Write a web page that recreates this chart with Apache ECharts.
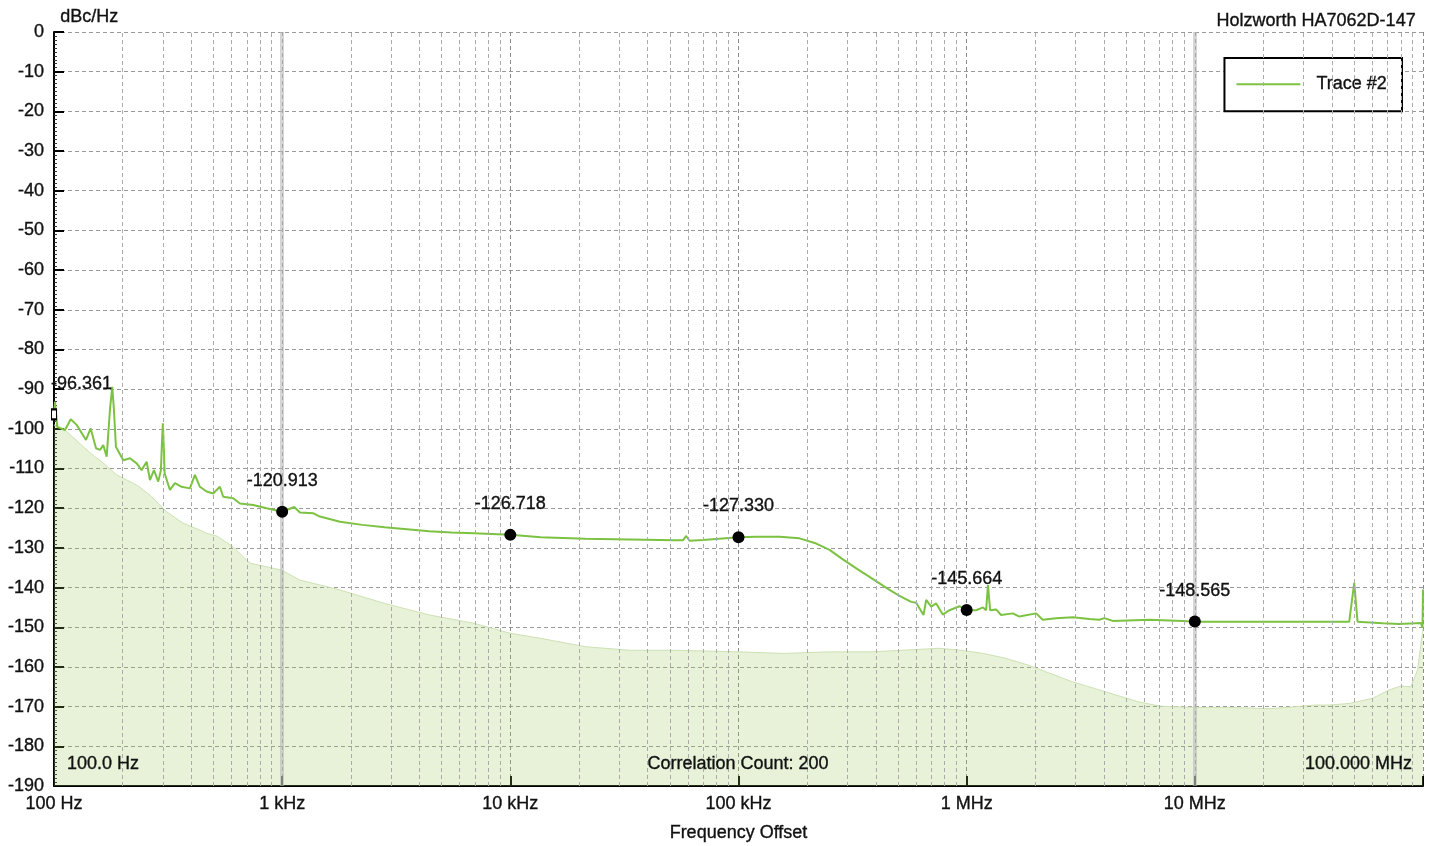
<!DOCTYPE html>
<html>
<head>
<meta charset="utf-8">
<script src="https://cdn.jsdelivr.net/npm/echarts@6/dist/echarts.min.js"></script>
<style>
html,body{margin:0;padding:0;background:#fff;overflow:hidden;}
#chart{width:1434px;height:846px;}
</style>
</head>
<body>
<div id="chart"></div>
<script>
// ---- Data (frequency offset in Hz, phase noise in dBc/Hz) ----
const traceFreqHz = [100,101,103.4,111.7,118.4,125.7,138.1,144.8,152.8,159.1,164.4,170.2,176,180,183,186.8,201.2,215.2,230.3,242.2,254.7,263.3,274.2,286.3,294.2,297,300,303,305.4,322.2,338.8,362.5,394.1,414.5,436,466.6,498.5,533.4,551.5,610.1,652.7,746.4,854.6,1000,1130,1196,1372,1463,1793,2245,2812,3522,4414,5526,6921,10000,13590,21330,33470,52500,57000,59000,61000,70000,100000,119700,151400,185200,219200,250600,286700,333400,375200,459100,507700,571400,600800,646900,664700,699100,735300,785900,840900,930100,1000000,1100000,1180000,1217000,1240000,1267000,1346000,1416000,1592000,1703000,2016000,2154000,2466000,2916000,3452000,3817000,4014000,4365000,6320000,8840000,10000000,20500000,47500000,49960000,51650000,66500000,78700000,97900000,99500000,100000000];
const traceDbc = [-96.4,-93.2,-99.5,-100.3,-97.6,-99.0,-102.8,-99.9,-104.9,-105.3,-104.1,-107.0,-95.0,-89.4,-95.0,-104.5,-107.9,-107.4,-108.7,-110.4,-108.3,-112.9,-110.4,-113.3,-110.4,-104.0,-98.6,-105.0,-111.2,-115.4,-113.7,-114.6,-115.0,-111.6,-114.6,-115.8,-116.3,-114.6,-117.1,-117.5,-118.8,-119.2,-120.0,-120.9,-119.7,-121.1,-121.3,-122.1,-123.4,-124.2,-124.8,-125.3,-125.8,-126.1,-126.3,-126.7,-127.3,-127.7,-127.9,-128.1,-128.1,-127.0,-128.2,-128.0,-127.3,-127.2,-127.2,-127.6,-128.9,-130.5,-132.9,-135.4,-137.3,-140.6,-142.1,-143.6,-143.8,-146.9,-143.1,-144.8,-144.0,-146.8,-145.7,-144.7,-145.7,-145.7,-145.0,-145.7,-139.4,-145.7,-145.5,-146.9,-146.5,-147.3,-146.5,-148.1,-147.7,-147.5,-147.9,-148.1,-147.7,-148.4,-148.1,-148.4,-148.6,-148.6,-148.6,-138.8,-148.6,-149.0,-149.2,-148.9,-150.1,-140.5];

const floorFreqHz = [100,113.7,134.4,150.6,159,188.2,222.6,236.4,263.3,296,311.7,368.5,436,464.7,516,610,698,729,994,1196,1793,2812,4414,6921,9970,13590,21330,33470,52500,101100,158100,247400,386800,605200,757100,946000,1184000,1479000,1852000,2314000,2895000,3623000,4532000,5662000,7085000,10130000,13850000,21680000,33880000,38800000,47500000,60100000,71100000,80000000,88500000,94600000,100000000];
const floorDbc = [-99.0,-100.7,-104.5,-107.0,-107.9,-111.6,-113.7,-114.6,-116.7,-119.6,-120.9,-123.8,-125.5,-126.3,-127.0,-129.7,-133.1,-133.9,-135.6,-138.1,-140.6,-144.0,-146.9,-149.0,-151.5,-152.8,-154.9,-155.8,-155.8,-156.2,-156.6,-156.2,-156.2,-155.6,-155.3,-155.8,-156.6,-157.8,-159.5,-161.6,-163.7,-165.4,-167.1,-168.8,-169.9,-170.2,-170.2,-170.5,-169.6,-169.6,-169.2,-167.9,-165.8,-164.8,-165.0,-160.8,-150.4];

const markerFreqHz = [100,1000,10000,100000,1000000,10000000];
const markerDbc = [-96.361,-120.913,-126.718,-127.330,-145.664,-148.565];

const xTickValues = [100,1000,10000,100000,1000000,10000000,100000000];
const xTickLabels = ['100 Hz','1 kHz','10 kHz','100 kHz','1 MHz','10 MHz',''];
const cursorFreqHz = [1000,10000000];
const minorMultipliers = [2,3,4,5,6,7,8,9];
const decadeStarts = [100,1000,10000,100000,1000000,10000000];

// ---- Build ----
const trace = traceFreqHz.map((f,i)=>[f,traceDbc[i]]);
const floor = floorFreqHz.map((f,i)=>[f,floorDbc[i]]);
const minorLines = [];
decadeStarts.forEach(d=>minorMultipliers.forEach(m=>minorLines.push({xAxis:d*m})));
const markers = markerFreqHz.map((f,i)=>{
  const item = {value:[f,markerDbc[i]]};
  if (i===0){
    item.symbol='rect'; item.symbolSize=[5,10];
    item.itemStyle={color:'#fff',borderColor:'#000',borderWidth:1.5,opacity:1};
    item.label={align:'left',offset:[-3,0],distance:15};
  }
  return item;
});
const FONT = 'Liberation Sans, Arial, Helvetica, sans-serif';
const TXT = '#111';
const FS = 18;
const heavy = {textBorderColor:'#111',textBorderWidth:0.35};

const chart = echarts.init(document.getElementById('chart'),null,{renderer:'canvas',width:1434,height:846});
chart.setOption({
  animation:false,
  backgroundColor:'#fff',
  textStyle:{fontFamily:FONT},
  title:{text:'Holzworth HA7062D-147',right:13,top:7,
    textStyle:Object.assign({fontSize:FS,fontWeight:'normal',color:TXT,fontFamily:FONT},heavy)},
  legend:{data:[{name:'Trace #2',icon:'rect'}],right:32,top:58,orient:'vertical',
    backgroundColor:'#fff',borderColor:'#000',borderWidth:2,
    padding:[17,15,18,12],itemWidth:64,itemHeight:2,
    itemStyle:{color:'#7cc242'},
    textStyle:Object.assign({fontSize:FS,color:TXT,fontFamily:FONT,padding:[0,0,0,11]},heavy)},
  grid:{left:54,right:11,top:32,bottom:60,containLabel:false,outerBoundsMode:'none'},
  xAxis:{type:'log',logBase:10,min:100,max:100000000,splitNumber:6,
    name:'Frequency Offset',nameLocation:'middle',nameGap:38,
    nameTextStyle:Object.assign({fontSize:FS,color:TXT,fontFamily:FONT},heavy),
    axisLine:{show:true,onZero:false,lineStyle:{color:'#000',width:2}},
    axisTick:{show:true,inside:true,length:10,lineStyle:{color:'#000',width:2}},
    axisLabel:Object.assign({margin:9,fontSize:FS,color:TXT,fontFamily:FONT,
      formatter:v=>{const i=xTickValues.findIndex(t=>Math.abs(Math.log10(t)-Math.log10(v))<1e-6);return i>=0?xTickLabels[i]:'';}},heavy),
    splitLine:{show:true,lineStyle:{color:'#8a8a8a',type:[4,3],width:1}}},
  yAxis:{type:'value',min:-190,max:0,interval:10,
    axisLine:{show:true,onZero:false,lineStyle:{color:'#000',width:2}},
    axisTick:{show:true,inside:true,length:10,lineStyle:{color:'#000',width:2}},
    minorTick:{show:true,splitNumber:10,length:3,lineStyle:{color:'#333',width:1}},
    axisLabel:Object.assign({margin:10,fontSize:FS,color:TXT,fontFamily:FONT},heavy),
    splitLine:{show:true,lineStyle:{color:'#9a9a9a',type:[4,3],width:1}}},
  graphic:[
    {type:'text',left:60,top:8,style:{text:'dBc/Hz',fontSize:FS,fill:TXT,fontFamily:FONT,stroke:'#111',lineWidth:0.35}},
    {type:'text',x:67,y:764,z:10,style:{text:'100.0 Hz',fontSize:FS,fill:TXT,fontFamily:FONT,textAlign:'left',textVerticalAlign:'middle',stroke:'#111',lineWidth:0.35}},
    {type:'text',x:738,y:764,z:10,style:{text:'Correlation Count: 200',fontSize:FS,fill:TXT,fontFamily:FONT,textAlign:'center',textVerticalAlign:'middle',stroke:'#111',lineWidth:0.35}},
    {type:'text',x:1412,y:764,z:10,style:{text:'100.000 MHz',fontSize:FS,fill:TXT,fontFamily:FONT,textAlign:'right',textVerticalAlign:'middle',stroke:'#111',lineWidth:0.35}}
  ],
  series:[
    {name:'Floor',type:'line',data:floor,symbol:'none',z:1,silent:true,
      lineStyle:{color:'#cde2b3',width:1},
      areaStyle:{origin:'start',color:'rgba(150,200,90,0.33)'},
      markLine:{silent:true,symbol:['none','none'],label:{show:false},animation:false,
        lineStyle:{color:'#ababab',type:[4,3],width:1},data:minorLines}},
    {name:'Cursors',type:'line',data:[],symbol:'none',z:2,silent:true,
      markLine:{silent:true,symbol:['none','none'],label:{show:false},animation:false,
        lineStyle:{color:'rgba(185,185,185,0.6)',type:'solid',width:4},
        data:cursorFreqHz.map(f=>({xAxis:f}))}},
    {name:'Trace #2',type:'line',data:trace,symbol:'none',z:3,
      lineStyle:{color:'#7cc242',width:2},itemStyle:{color:'#7cc242'}},
    {name:'Markers',type:'scatter',data:markers,symbol:'circle',symbolSize:12,z:5,
      itemStyle:{color:'#000',opacity:1},
      label:Object.assign({show:true,position:'top',distance:16,fontSize:FS,color:TXT,fontFamily:FONT,
        formatter:p=>p.value[1].toFixed(3)},heavy)}
  ]
});
</script>
</body>
</html>
